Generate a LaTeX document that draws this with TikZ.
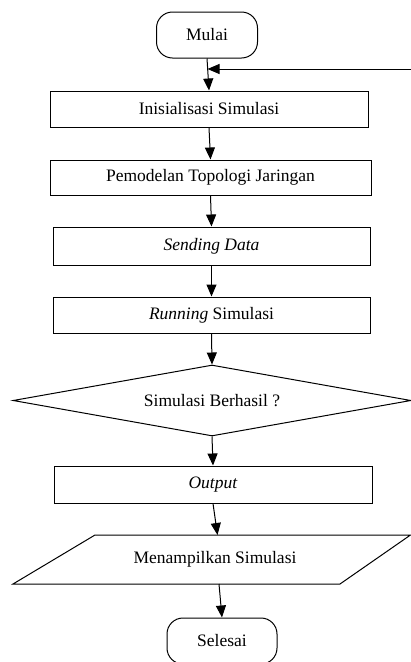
\documentclass[tikz,border=0pt]{standalone}
\usepackage{fontspec}
\setmainfont{Liberation Serif}
\usetikzlibrary{arrows.meta,shapes.geometric}
\begin{document}
\begin{tikzpicture}[x=1pt,y=-1pt,
  txt/.style={font=\fontsize{17.5}{20}\selectfont},
  box/.style={txt, draw, line width=1pt, minimum height=36pt, inner sep=0pt},
  term/.style={txt, draw, line width=1pt, rounded corners=16pt, inner sep=0pt, minimum height=46pt},
  decision/.style={txt, draw, line width=1pt, diamond, aspect=5.6, inner sep=0pt, minimum width=398pt, minimum height=71pt},
  arr/.style={-{Triangle[length=12pt,width=10pt]}, line width=1pt}]
\useasboundingbox (0,0) rectangle (411,662);

\node[term, minimum width=101pt] (mulai) at (207,35) {Mulai};
\node[box, minimum width=318pt] (init) at (209,109) {Inisialisasi Simulasi};
\node[box, minimum width=321pt, minimum height=35pt] (model) at (210.5,177.5) {Pemodelan Topologi Jaringan};
\node[box, minimum width=317pt, minimum height=38pt] (send) at (211.5,246) {\textit{Sending Data}};
\node[box, minimum width=317pt] (run) at (211.5,315) {\textit{Running} Simulasi};
\node[decision] (dec) at (212,400.5) {Simulasi Berhasil ?};
\node[box, minimum width=318pt, minimum height=37pt] (out) at (213,484.5) {\textit{Output}};

\coordinate (pTL) at (95,535);
\coordinate (pTR) at (410.5,535);
\coordinate (pBR) at (340,584);
\coordinate (pBL) at (13,584);
\draw[line width=1pt] (pTL) -- (pTR) -- (pBR) -- (pBL) -- cycle;
\node[txt] (disp) at (215,559.5) {Menampilkan Simulasi};
\coordinate (dtop) at (217.5,535);
\coordinate (dbot) at (219,584);

\node[term, minimum width=110pt] (selesai) at (222,641) {Selesai};

\coordinate (fbR) at (411,69);
\coordinate (fbJ) at (207.5,69);

\draw[arr] (mulai.south) -- (init.north);
\draw[arr] (fbR) -- (fbJ);
\draw[arr] (init.south) -- (model.north);
\draw[arr] (model.south) -- (send.north);
\draw[arr] (send.south) -- (run.north);
\draw[arr] (run.south) -- (dec.north);
\draw[arr] (dec.south) -- (out.north);
\draw[arr] (out.south) -- (dtop);
\draw[arr] (dbot) -- (selesai.north);
\end{tikzpicture}
\end{document}
